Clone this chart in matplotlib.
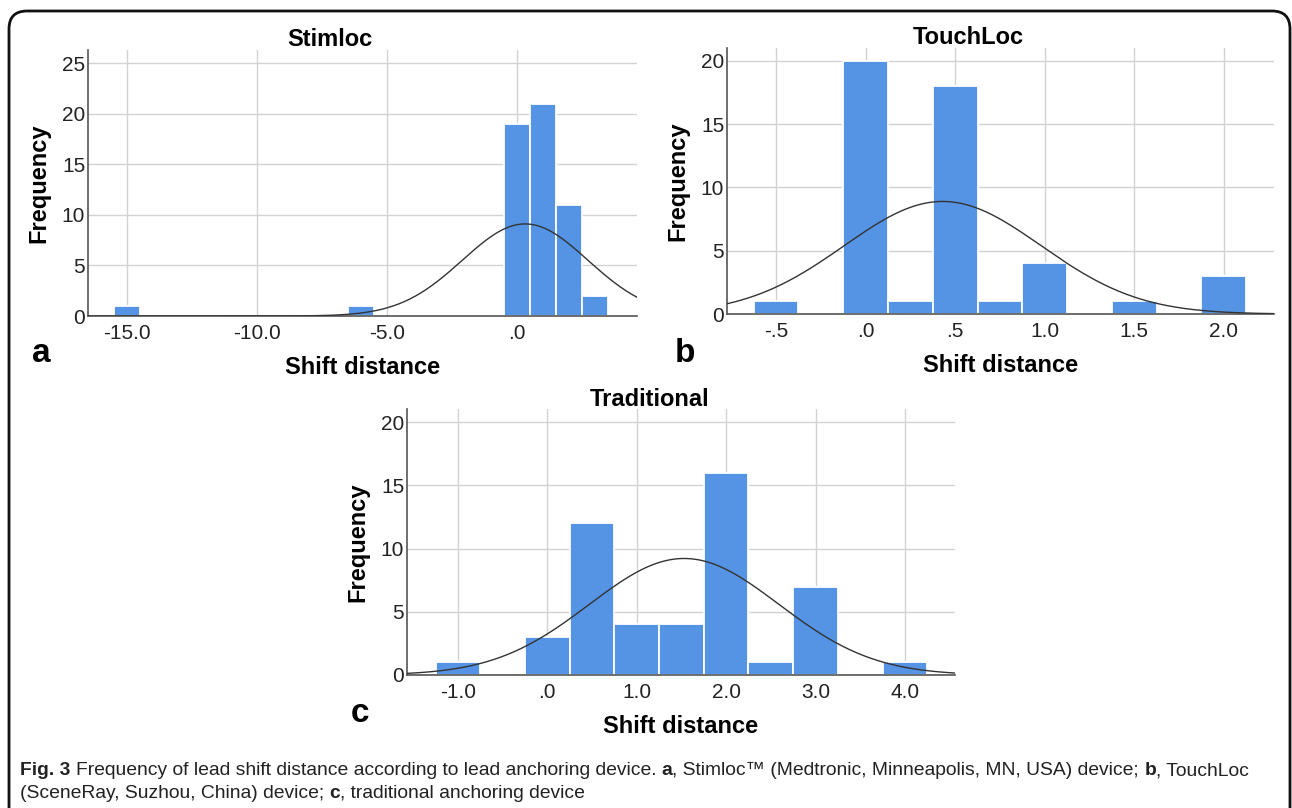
import numpy as np
import matplotlib.pyplot as plt
from matplotlib.patches import FancyBboxPatch

# panel a - Stimloc
a_centers = [-15, -6, 0, 1, 2, 3]
a_counts = [1, 1, 19, 21, 11, 2]
a_width = 1.0
a_mean, a_sd = 0.3, 2.41

# panel b - TouchLoc
b_centers = [-0.5, 0.0, 0.25, 0.5, 0.75, 1.0, 1.5, 2.0]
b_counts = [1, 20, 1, 18, 1, 4, 1, 3]
b_width = 0.25
b_mean, b_sd = 0.43, 0.55

# panel c - Traditional
c_centers = [-1.0, 0.0, 0.5, 1.0, 1.5, 2.0, 2.5, 3.0, 4.0]
c_counts = [1, 3, 12, 4, 4, 16, 1, 7, 1]
c_width = 0.5
c_mean, c_sd = 1.53, 1.06

a_xticks = [-15, -10, -5, 0]
a_xlabels = ['-15.0', '-10.0', '-5.0', '.0']
b_xticks = [-0.5, 0.0, 0.5, 1.0, 1.5, 2.0]
b_xlabels = ['-.5', '.0', '.5', '1.0', '1.5', '2.0']
c_xticks = [-1, 0, 1, 2, 3, 4]
c_xlabels = ['-1.0', '.0', '1.0', '2.0', '3.0', '4.0']

BAR = '#5594e4'
plt.rcParams['font.family'] = ['Liberation Sans', 'DejaVu Sans']

fig = plt.figure(figsize=(12.92, 8.08), dpi=100)
W, H = 1292.0, 808.0


def panel(rect, centers, counts, width, mean, sd, xlim, ylim, xticks, xlabels, ytop):
    ax = fig.add_axes(rect)
    ax.set_axisbelow(True)
    ax.bar(centers, counts, width=width, color=BAR, edgecolor='white', linewidth=1.3, zorder=2)
    n = sum(counts)
    xs = np.linspace(xlim[0], xlim[1], 400)
    ys = n * width / (sd * np.sqrt(2 * np.pi)) * np.exp(-(xs - mean) ** 2 / (2 * sd ** 2))
    ax.plot(xs, ys, color='#333333', lw=1.0, zorder=3)
    ax.set_xlim(*xlim)
    ax.set_ylim(*ylim)
    ax.set_xticks(xticks)
    ax.set_xticklabels(xlabels)
    ax.set_yticks(range(0, ytop + 1, 5))
    ax.grid(True, color='#d2d2d2', lw=1.0)
    for s in ['top', 'right']:
        ax.spines[s].set_visible(False)
    for s in ['left', 'bottom']:
        ax.spines[s].set_color('#555555')
        ax.spines[s].set_linewidth(1.2)
    ax.tick_params(length=0, labelsize=15, labelcolor='#222222')
    ax.tick_params(axis='x', pad=6)
    ax.tick_params(axis='y', pad=2)
    ax.set_ylabel('Frequency', fontsize=17, fontweight='bold')
    ax.yaxis.set_label_coords(-0.069, 0.5)
    ax.set_xlabel('Shift distance', fontsize=17, fontweight='bold')
    ax.xaxis.set_label_coords(0.5, -0.195)
    ax.xaxis.label.set_va('center')
    return ax


def rect(l, r, t, b):
    return [l / W, 1 - b / H, (r - l) / W, (b - t) / H]


panel(rect(88, 637, 50, 316), a_centers, a_counts, a_width, a_mean, a_sd,
      (-16.5, 4.6), (0, 26.3), a_xticks, a_xlabels, 25)
panel(rect(727, 1274, 48, 314), b_centers, b_counts, b_width, b_mean, b_sd,
      (-0.774, 2.28), (0, 21), b_xticks, b_xlabels, 20)
panel(rect(407, 955, 409, 675), c_centers, c_counts, c_width, c_mean, c_sd,
      (-1.57, 4.56), (0, 21.05), c_xticks, c_xlabels, 20)

# titles and panel letters
for txt, x, y in [('Stimloc', 330, 40), ('TouchLoc', 968, 38), ('Traditional', 650, 400)]:
    fig.text(x / W, 1 - y / H, txt, ha='center', va='center', fontsize=17, fontweight='bold')
for txt, x, y in [('a', 32, 354), ('b', 675, 354), ('c', 351, 713)]:
    fig.text(x / W, 1 - y / H, txt, ha='left', va='center', fontsize=24, fontweight='bold')

# caption, bold pieces mixed in
cap_font = ['Liberation Sans Narrow', 'Liberation Sans', 'DejaVu Sans']
line1 = [('Fig. 3', 'bold', False),
         ('Frequency of lead shift distance according to lead anchoring device.', 'normal', True),
         ('a', 'bold', True), (', Stimloc\u2122 (Medtronic, Minneapolis, MN, USA) device;', 'normal', False),
         ('b', 'bold', True), (', TouchLoc', 'normal', False)]
line2 = [('(SceneRay, Suzhou, China) device;', 'normal', False), ('c', 'bold', True),
         (', traditional anchoring device', 'normal', False)]

renderer = fig.canvas.get_renderer()


def width_of(s, fs, wt='normal'):
    t = fig.text(0, 0, s, fontsize=fs, fontweight=wt, family=cap_font)
    w = t.get_window_extent(renderer).width
    t.remove()
    return w


def draw_line(parts, x0, y, fs, draw=True):
    sp = width_of('a a', fs) - width_of('aa', fs)
    x = x0
    for txt, wt, space in parts:
        if space:
            x += sp
        t = fig.text(x / W, 1 - y / H, txt, ha='left', va='baseline', fontsize=fs,
                     fontweight=wt, family=cap_font, color='#222222')
        x = t.get_window_extent(renderer).x1
        if not draw:
            t.remove()
    return x


x_start, x_end = 20, 1253
w10 = draw_line(line1, x_start, 0, 10, draw=False) - x_start
fs = 10 * (x_end - x_start) / w10
draw_line(line1, x_start, 775, fs)
draw_line(line2, x_start, 798, fs)

# border
box = FancyBboxPatch((9, -30), 1281, 797 + 30, boxstyle='round,pad=0,rounding_size=18',
                     transform=None, fill=False, edgecolor='#111111', lw=2)
fig.patches.append(box)

fig.savefig('out.png', dpi=100)
